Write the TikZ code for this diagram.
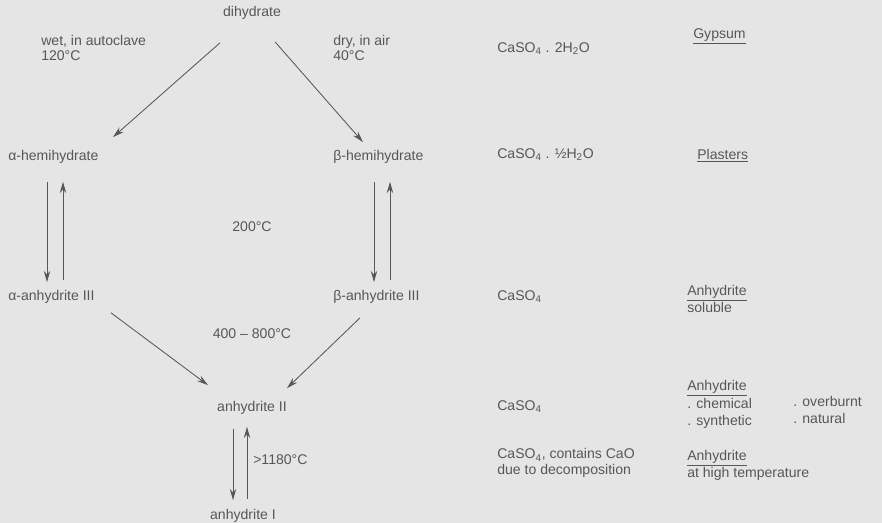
\documentclass[tikz,border=0pt]{standalone}
\usepackage{fontspec}
\setmainfont{Liberation Sans}
\usepackage{tikz}
\usetikzlibrary{calc,arrows.meta,positioning}
\definecolor{paper}{HTML}{E5E5E5}
\definecolor{ink}{HTML}{575757}
\tikzset{
  phase/.style={inner sep=0pt,text=ink},
  note/.style={inner sep=0pt,text=ink,align=left},
  arr/.style={-{Stealth[length=8pt,width=4.5pt]},draw=ink,semithick},
  every node/.style={font=\fontsize{10}{11}\selectfont}
}
\newcommand{\uname}[1]{\underline{#1}}

\begin{document}
\begin{tikzpicture}[x=0.025cm,y=-0.025cm]
  \fill[paper] (0,0) rectangle (882,523);
  \useasboundingbox (0,0) rectangle (882,523);
  % phases
  \node[phase] (dihyd) at (252,13) {dihydrate};
  \node[phase,anchor=west] (ahemi) at (8,157) {α-hemihydrate};
  \node[phase,anchor=west] (bhemi) at (333,157) {β-hemihydrate};
  \node[phase,anchor=west] (aanh) at (8,297) {α-anhydrite III};
  \node[phase,anchor=west] (banh) at (333,297) {β-anhydrite III};
  \node[phase] (anhii) at (252,408) {anhydrite II};
  \node[phase] (anhi) at (243,516) {anhydrite I};
  % conditions
  \node[note,anchor=west] (wet) at (41,48) {wet, in autoclave\\120°C};
  \node[note,anchor=west] (dry) at (333,48) {dry, in air\\40°C};
  \node[note] (tdehyd) at (252,227) {200°C};
  \node[note] (tanh) at (252,334) {400 – 800°C};
  \node[note,anchor=west] (thigh) at (253,460) {>1180°C};
  % formulas
  \node[note,anchor=west] (fdi) at (497,49) {CaSO\textsubscript{4} . 2H\textsubscript{2}O};
  \node[note,anchor=west] (fhemi) at (497,155) {CaSO\textsubscript{4} . ½H\textsubscript{2}O};
  \node[note,anchor=west] (fiii) at (497,297) {CaSO\textsubscript{4}};
  \node[note,anchor=west] (fii) at (497,407) {CaSO\textsubscript{4}};
  \node[note,anchor=west] (fi) at (497,463) {CaSO\textsubscript{4}, contains CaO\\due to decomposition};
  % names
  \node[note,anchor=west] (ngyp) at (693,36) {\uname{Gypsum}};
  \node[note,anchor=west] (nplas) at (697,156) {\uname{Plasters}};
  \node[note,anchor=west] (nsol) at (687,299) {\uname{Anhydrite}\\soluble};
  \node[note,anchor=west] (nii) at (687,388) {\uname{Anhydrite}};
  \node[note,anchor=north west,font=\fontsize{10}{11.8}\selectfont] (nkinds) at (687,398) {. chemical\\. synthetic};
  \node[note,anchor=north west,font=\fontsize{10}{11.8}\selectfont] (nkindsb) at (793,396) {. overburnt\\. natural};
  \node[note,anchor=west,font=\fontsize{10}{12}\selectfont] (nhigh) at (687,465) {\uname{Anhydrite}\\at high temperature};
  % transformations
  \draw[arr] ([shift={(-32,23)}]dihyd.south) -- ([shift={(105,-13)}]ahemi.north west);
  \draw[arr] ([shift={(23,22)}]dihyd.south) -- ([shift={(30,-8)}]bhemi.north west);
  \draw[arr] ([shift={(39,18)}]ahemi.south west) -- ([shift={(39,-8)}]aanh.north west);
  \draw[arr] ([shift={(55,-10)}]aanh.north west) -- ([shift={(55,18)}]ahemi.south west);
  \draw[arr] ([shift={(41,18)}]bhemi.south west) -- ([shift={(41,-8)}]banh.north west);
  \draw[arr] ([shift={(57,-10)}]banh.north west) -- ([shift={(57,18)}]bhemi.south west);
  \draw[arr] ([shift={(103,9)}]aanh.south west) -- ([shift={(-44,-16)}]anhii.north);
  \draw[arr] ([shift={(27,14)}]banh.south west) -- ([shift={(35,-13)}]anhii.north);
  \draw[arr] ([shift={(-19,14)}]anhii.south) -- ([shift={(-10,-9)}]anhi.north);
  \draw[arr] ([shift={(4,-10)}]anhi.north) -- ([shift={(-5,12)}]anhii.south);
\end{tikzpicture}
\end{document}
